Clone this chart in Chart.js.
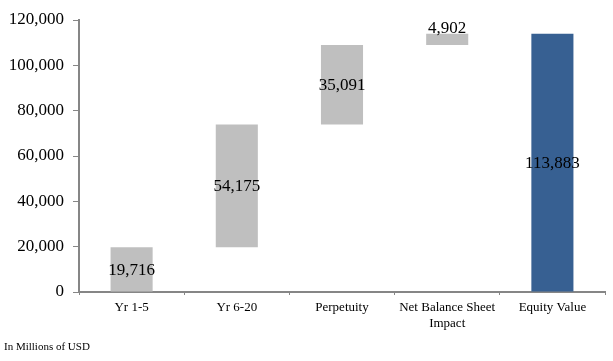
<!DOCTYPE html>
<html>
<head>
<meta charset="utf-8">
<script src="https://cdn.jsdelivr.net/npm/chart.js@4"></script>
<style>
html,body{margin:0;padding:0;background:#fff;}
#wrap{width:613px;height:361px;position:relative;}
</style>
</head>
<body>
<div id="wrap"><canvas id="c" width="613" height="361"></canvas></div>
<script>
const categories = [["Yr 1-5"], ["Yr 6-20"], ["Perpetuity"], ["Net Balance Sheet", "Impact"], ["Equity Value"]];
const stepValues = [19716, 54175, 35091, 4902];
const totalValue = 113883;
const yTicks = [0, 20000, 40000, 60000, 80000, 100000, 120000];
const footnote = "In Millions of USD";

const labelValues = stepValues.concat([totalValue]);
const ranges = [];
let run = 0;
stepValues.forEach(v => { ranges.push([run, run + v]); run += v; });
ranges.push([0, totalValue]);

const serif = "'Liberation Serif', 'Times New Roman', serif";
const fmt = v => v.toLocaleString('en-US');

const labelPlugin = {
  id: 'labels',
  afterDatasetsDraw(chart) {
    const ctx = chart.ctx;
    const meta = chart.getDatasetMeta(0);
    ctx.save();
    ctx.font = "17px " + serif;
    ctx.fillStyle = '#000';
    ctx.textAlign = 'center';
    meta.data.forEach((bar, i) => {
      const top = Math.min(bar.y, bar.base);
      const bottom = Math.max(bar.y, bar.base);
      const txt = fmt(labelValues[i]);
      if (bottom - top < 20) {
        ctx.textBaseline = 'alphabetic';
        ctx.fillText(txt, bar.x, top - 1);
      } else {
        ctx.textBaseline = 'middle';
        ctx.fillText(txt, bar.x, (top + bottom) / 2 + 1);
      }
    });
    ctx.font = "11px " + serif;
    ctx.textAlign = 'left';
    ctx.textBaseline = 'middle';
    ctx.fillText(footnote, 4, 347);
    ctx.restore();
  }
};

new Chart(document.getElementById('c'), {
  type: 'bar',
  data: {
    labels: categories,
    datasets: [{
      data: ranges,
      backgroundColor: ['#bfbfbf', '#bfbfbf', '#bfbfbf', '#bfbfbf', '#376092'],
      borderWidth: 0,
      barPercentage: 0.8,
      categoryPercentage: 0.5
    }]
  },
  options: {
    responsive: false,
    animation: false,
    layout: { padding: { top: 20, right: 8, left: 0, bottom: 0 } },
    plugins: { legend: { display: false }, tooltip: { enabled: false } },
    scales: {
      x: {
        offset: true,
        grid: { offset: true, drawOnChartArea: false, drawTicks: true, tickLength: 3, tickColor: '#868686', tickWidth: 1 },
        border: { color: '#868686', width: 2 },
        ticks: { color: '#000', font: { family: serif, size: 13 }, padding: 5, maxRotation: 0, autoSkip: false },
        afterFit(s) { s.height = 69; }
      },
      y: {
        min: 0, max: 120000,
        afterBuildTicks(s) { s.ticks = yTicks.map(v => ({ value: v })); },
        grid: { drawOnChartArea: false, drawTicks: true, tickLength: 6, tickColor: '#868686', tickWidth: 1 },
        border: { color: '#868686', width: 2 },
        ticks: { color: '#000', font: { family: serif, size: 17 }, padding: 9, callback: v => fmt(v) },
        afterFit(s) { s.width = 79; }
      }
    }
  },
  plugins: [labelPlugin]
});
</script>
</body>
</html>
